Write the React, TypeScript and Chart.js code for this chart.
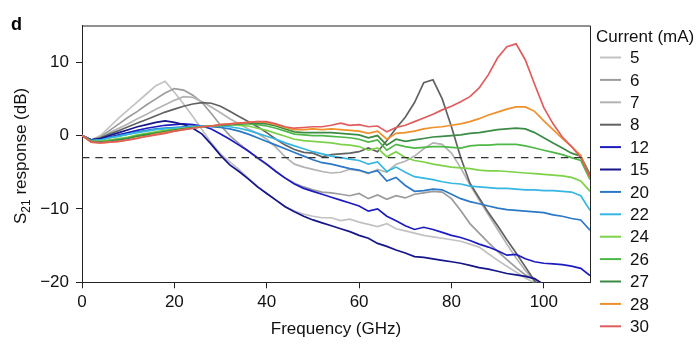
import React, { useEffect, useRef } from 'react';
import { Chart, registerables } from 'chart.js';

Chart.register(...registerables);

const freq = [0, 2, 4, 6, 8, 10, 12, 14, 16, 18, 20, 22, 24, 26, 28, 30, 32, 34, 36, 38, 40, 42, 44, 46, 48, 50, 52, 54, 56, 58, 60, 62, 64, 66, 68, 70, 72, 74, 76, 78, 80, 82, 84, 86, 88, 90, 92, 94, 96, 98, 100, 102, 104, 106, 108, 110];

const currents = ['5', '6', '7', '8', '12', '15', '20', '22', '24', '26', '27', '28', '30'];
const colors = ['#c2c2c2', '#9c9c9c', '#b3b3b3', '#626262', '#1c1cc0', '#15168a', '#2a78c8', '#35b6e3', '#7cd34a', '#4db846', '#3b8b45', '#f0902a', '#e05d5d'];

const s5 = [0, -0.6, 0.0, 1.2, 2.4, 3.5, 4.6, 5.7, 6.8, 7.4,
  5.9, 4.3, 2.6, 0.8, -1.0, -2.5, -3.6, -4.6, -5.8, -6.9,
  -7.9, -8.8, -9.7, -10.3, -10.7, -11.0, -11.2, -11.2, -11.6, -11.4,
  -11.8, -12.1, -12.4, -12.0, -12.7, -13.0, -13.3, -13.6, -13.8, -14.0,
  -14.2, -14.4, -14.8, -15.2, -16.1, -17.0, -17.8, -18.6, -19.4, -20.1,
  -20.8, null, null, null, null, null];
const s6 = [0, -0.6, -0.2, 0.7, 1.6, 2.5, 3.3, 4.2, 5.0, 5.8,
  6.4, 6.2, 5.5, 4.5, 3.0, 1.4, 0.0, -1.1, -2.1, -3.1,
  -4.0, -4.9, -5.8, -6.5, -7.0, -7.4, -7.7, -7.8, -8.0, -8.2,
  -7.9, -8.6, -8.1, -8.7, -8.2, -8.5, -8.0, -7.8, -7.6, -7.7,
  -8.6, -10.2, -12.0, -13.3, -14.6, -15.8, -16.9, -18.0, -19.0, -19.6,
  -20.4, null, null, null, null, null];
const s7 = [0, -0.6, -0.3, 0.4, 1.0, 1.6, 2.3, 2.9, 3.6, 4.2,
  4.8, 5.3, 5.2, 4.6, 3.9, 3.1, 2.3, 1.6, 0.9, 0.3,
  -0.5, -1.6, -2.9, -3.9, -4.3, -4.6, -4.9, -5.1, -5.0, -4.6,
  -4.8, -5.2, -4.6, -5.0, -3.9, -3.5, -2.8, -1.8, -1.0, -1.2,
  -2.4, -4.4, -6.7, -8.8, -10.8, -12.8, -14.8, -16.7, -18.4, -19.9,
  -21, null, null, null, null, null];
const s8 = [0, -0.6, -0.3, 0.2, 0.7, 1.2, 1.7, 2.2, 2.7, 3.2,
  3.6, 4.0, 4.3, 4.5, 4.4, 4.0, 3.3, 2.6, 1.9, 1.2,
  0.4, -0.5, -1.3, -1.9, -2.3, -2.4, -2.9, -2.6, -2.5, -2.4,
  -2.2, -1.7, -2.2, -0.7, 1.0, 2.5, 4.5, 7.2, 7.6, 5.0,
  1.2, -3.0, -6.5, -8.5, -10.5, -12.3, -14.2, -16.0, -17.9, -19.8,
  -21, null, null, null, null, null];
const s12 = [0, -0.6, -0.5, -0.2, 0.1, 0.4, 0.7, 1.0, 1.2, 1.4,
  1.5, 1.6, 1.5, 1.3, 0.9, 0.2, -0.5, -1.3, -2.1, -3.0,
  -3.9, -4.9, -5.8, -6.6, -7.2, -7.6, -8.0, -8.4, -8.8, -9.2,
  -9.6, -10.3, -10.0, -11.0, -11.6, -12.3, -12.8, -12.5, -12.8, -13.2,
  -13.6, -13.9, -14.3, -14.8, -15.2, -15.7, -16.3, -16.2, -16.8, -17.2,
  -17.4, -17.5, -17.6, -17.8, -18.1, -19.1];
const s15 = [0, -0.6, -0.4, 0.0, 0.4, 0.8, 1.2, 1.5, 1.8, 2.0,
  1.8, 1.5, 1.0, 0.2, -1.2, -2.7, -4.0, -4.9, -5.9, -7.0,
  -7.9, -8.8, -9.7, -10.4, -11.0, -11.5, -11.9, -12.3, -12.7, -13.1,
  -13.6, -14.0, -14.7, -15.1, -15.6, -16.0, -16.5, -16.6, -16.8, -17.0,
  -17.2, -17.4, -17.7, -18.0, -18.2, -18.5, -18.8, -19.0, -19.2, -19.5,
  -20.3, null, null, null, null, null];
const s20 = [0, -0.7, -0.6, -0.3, 0.0, 0.2, 0.5, 0.7, 0.9, 1.0,
  1.1, 1.2, 1.3, 1.3, 1.2, 1.1, 0.9, 0.6, 0.2, -0.3,
  -0.8, -1.3, -1.8, -2.3, -2.8, -3.3, -3.7, -3.9, -4.2, -4.5,
  -4.7, -5.1, -4.8, -6.2, -5.7, -6.8, -7.6, -7.5, -7.3, -7.4,
  -8.0, -8.6, -9.0, -9.3, -9.6, -9.9, -10.1, -10.2, -10.3, -10.4,
  -10.5, -10.8, -11.0, -11.3, -11.5, -12.9];
const s22 = [0, -0.7, -0.6, -0.3, -0.1, 0.2, 0.4, 0.6, 0.8, 0.9,
  1.0, 1.1, 1.2, 1.3, 1.3, 1.3, 1.2, 1.0, 0.7, 0.3,
  -0.1, -0.5, -1.0, -1.4, -1.8, -2.2, -2.5, -2.8, -3.0, -3.2,
  -3.4, -3.9, -3.6, -4.9, -4.3, -5.0, -5.6, -5.8, -6.0, -6.3,
  -6.5, -6.6, -6.9, -7.0, -7.1, -7.2, -7.2, -7.3, -7.4, -7.4,
  -7.5, -7.5, -7.6, -7.7, -8.2, -10.2];
const s24 = [0, -0.8, -0.8, -0.6, -0.4, -0.2, 0.1, 0.3, 0.5, 0.7,
  0.8, 1.0, 1.1, 1.2, 1.3, 1.4, 1.5, 1.4, 1.3, 1.0,
  0.7, 0.3, -0.1, -0.5, -0.7, -0.8, -0.9, -1.0, -1.2, -1.3,
  -1.5, -2.0, -1.7, -2.9, -2.2, -3.0, -3.4, -3.6, -3.9, -4.1,
  -4.3, -4.4, -4.5, -4.7, -4.8, -4.8, -4.9, -5.0, -5.1, -5.2,
  -5.3, -5.4, -5.5, -5.7, -6.2, -7.6];
const s26 = [0, -0.8, -0.9, -0.7, -0.5, -0.3, 0.0, 0.2, 0.4, 0.6,
  0.8, 0.9, 1.1, 1.2, 1.3, 1.4, 1.5, 1.6, 1.6, 1.5,
  1.3, 1.0, 0.6, 0.2, 0.1, 0.0, 0.0, -0.1, -0.2, -0.3,
  -0.5, -0.9, -0.6, -2.0, -1.2, -1.5, -1.7, -1.6, -1.5, -1.5,
  -1.6, -1.7, -1.4, -1.3, -1.3, -1.2, -1.2, -1.2, -1.4, -1.7,
  -2.0, -2.3, -2.6, -3.0, -3.4, -6.0];
const s27 = [0, -0.8, -0.9, -0.8, -0.6, -0.4, -0.1, 0.1, 0.3, 0.5,
  0.7, 0.9, 1.0, 1.2, 1.3, 1.4, 1.5, 1.6, 1.7, 1.7,
  1.6, 1.3, 0.9, 0.5, 0.4, 0.4, 0.4, 0.4, 0.3, 0.2,
  0.1, -0.3, 0.0, -1.3, -0.5, -0.8, -0.6, -0.4, -0.2, -0.1,
  0.0, 0.1, 0.3, 0.4, 0.6, 0.8, 0.9, 1.0, 0.9, 0.4,
  -0.3, -1.0, -1.7, -2.4, -2.8, -5.3];
const s28 = [0, -0.9, -1.0, -0.9, -0.8, -0.6, -0.3, -0.1, 0.2, 0.4,
  0.6, 0.8, 1.0, 1.2, 1.3, 1.5, 1.6, 1.7, 1.8, 1.9,
  1.8, 1.5, 1.1, 0.8, 0.8, 0.9, 0.8, 0.9, 0.8, 0.7,
  0.6, 0.3, 0.6, -0.5, 0.3, 0.4, 0.6, 0.9, 1.1, 1.2,
  1.4, 1.6, 1.9, 2.3, 2.8, 3.2, 3.6, 3.9, 3.9, 3.3,
  2.0, 0.8, -0.4, -1.5, -2.7, -5.8];
const s30 = [0, -0.9, -1.0, -0.9, -0.8, -0.6, -0.4, -0.1, 0.1, 0.3,
  0.6, 0.8, 1.0, 1.2, 1.3, 1.5, 1.6, 1.7, 1.8, 1.9,
  1.9, 1.6, 1.2, 1.0, 1.1, 1.2, 1.2, 1.4, 1.7, 1.4,
  1.5, 1.2, 1.3, 0.5, 1.1, 1.4, 1.9, 2.4, 2.9, 3.5,
  4.0, 4.6, 5.3, 6.5, 8.3, 10.6, 12.1, 12.5, 10.3, 7.0,
  3.8, 1.6, -0.2, -1.5, -3.0, -5.6];

const seriesValues = [s5, s6, s7, s8, s12, s15, s20, s22, s24, s26, s27, s28, s30];

const xTicks = [0, 20, 40, 60, 80, 100];
const yTicks = [-20, -10, 0, 10];
const xRange = [0, 110];
const yRange = [-20, 15];
const threshold = -3;

const FONT = "'Liberation Sans', Arial, Helvetica, sans-serif";

const decorPlugin = {
  id: 'decor',
  afterDraw(chart: any) {
    const { ctx, chartArea: a } = chart;
    ctx.save();
    // frame top & right
    ctx.strokeStyle = '#222';
    ctx.lineWidth = 1;
    ctx.beginPath();
    ctx.moveTo(a.left, a.top + 0.5);
    ctx.lineTo(a.right + 0.5, a.top + 0.5);
    ctx.lineTo(a.right + 0.5, a.bottom);
    ctx.stroke();

    // panel letter
    ctx.fillStyle = '#000';
    ctx.font = `bold 18px ${FONT}`;
    ctx.textBaseline = 'alphabetic';
    ctx.textAlign = 'left';
    ctx.fillText('d', 11, 30);

    // y title with subscript
    const cy = (a.top + a.bottom) / 2 + 2;
    ctx.save();
    ctx.translate(26, cy);
    ctx.rotate(-Math.PI / 2);
    const big = `17px ${FONT}`;
    const small = `12px ${FONT}`;
    ctx.font = big;
    const wS = ctx.measureText('S').width;
    const wRest = ctx.measureText(' response (dB)').width;
    ctx.font = small;
    const wSub = ctx.measureText('21').width;
    const total = wS + wSub + wRest;
    let x = -total / 2;
    ctx.fillStyle = '#111';
    ctx.font = big;
    ctx.fillText('S', x, 0);
    x += wS;
    ctx.font = small;
    ctx.fillText('21', x, 4);
    x += wSub;
    ctx.font = big;
    ctx.fillText(' response (dB)', x, 0);
    ctx.restore();

    // legend
    ctx.font = `17px ${FONT}`;
    ctx.fillStyle = '#111';
    ctx.textAlign = 'left';
    ctx.textBaseline = 'alphabetic';
    ctx.fillText('Current (mA)', 596, 42);
    ctx.textBaseline = 'middle';
    chart.data.datasets.forEach((ds: any, i: number) => {
      if (!ds.legend) return;
      const y = 57.5 + ds.legendIndex * 22.4;
      ctx.strokeStyle = ds.borderColor;
      ctx.lineWidth = 2;
      ctx.beginPath();
      ctx.moveTo(600, y);
      ctx.lineTo(621, y);
      ctx.stroke();
      ctx.fillStyle = '#111';
      ctx.fillText(ds.label, 630, y + 1);
    });
    ctx.restore();
  },
};

export default function App() {
  const ref = useRef<HTMLCanvasElement | null>(null);
  useEffect(() => {
    if (!ref.current) return;
    const datasets: any[] = seriesValues.map((vals, i) => ({
      label: currents[i],
      data: freq.map((f, j) => ({ x: f, y: vals[j] })),
      borderColor: colors[i],
      backgroundColor: colors[i],
      borderWidth: 1.7,
      pointRadius: 0,
      tension: 0,
      fill: false,
      order: -i,
      legend: true,
      legendIndex: i,
    }));
    datasets.push({
      label: '-3 dB',
      data: [{ x: xRange[0], y: threshold }, { x: xRange[1], y: threshold }],
      borderColor: '#333',
      borderWidth: 1.3,
      borderDash: [7.5, 5.8],
      pointRadius: 0,
      fill: false,
      order: -100,
      legend: false,
    });
    const chart = new Chart(ref.current, {
      type: 'line',
      data: { datasets },
      options: {
        animation: false,
        responsive: false,
        devicePixelRatio: 1,
        layout: { padding: { top: 25.5, right: 106, bottom: 0, left: 0 } },
        plugins: { legend: { display: false }, tooltip: { enabled: false } },
        scales: {
          x: {
            type: 'linear',
            min: xRange[0],
            max: xRange[1],
            afterBuildTicks: (s: any) => { s.ticks = xTicks.map((v) => ({ value: v })); },
            afterFit: (s: any) => { s.height = 354 - 282.3; },
            grid: { display: true, drawOnChartArea: false, drawTicks: true, tickLength: 6, color: '#222' },
            border: { display: true, color: '#222', width: 1 },
            ticks: { font: { size: 17, family: FONT }, color: '#111', padding: 4, maxRotation: 0 },
            title: { display: true, text: 'Frequency (GHz)', font: { size: 17, family: FONT }, color: '#111', padding: { top: 0, bottom: 14 } },
          },
          y: {
            type: 'linear',
            min: yRange[0],
            max: yRange[1],
            afterBuildTicks: (s: any) => { s.ticks = yTicks.map((v) => ({ value: v })); },
            afterFit: (s: any) => { s.width = 82; },
            grid: { display: true, drawOnChartArea: false, drawTicks: true, tickLength: 6, color: '#222' },
            border: { display: true, color: '#222', width: 1 },
            ticks: {
              font: { size: 17, family: FONT },
              color: '#111',
              padding: 7,
              callback: (v: any) => (v < 0 ? '\u2212' + Math.abs(v) : String(v)),
            },
          },
        },
      },
      plugins: [decorPlugin],
    } as any);
    return () => chart.destroy();
  }, []);
  return (
    <div style={{ position: 'fixed', left: 0, top: 0, width: 696, height: 354, background: '#fff' }}>
      <canvas ref={ref} width={696} height={354} style={{ width: 696, height: 354, display: 'block' }} />
    </div>
  );
}
